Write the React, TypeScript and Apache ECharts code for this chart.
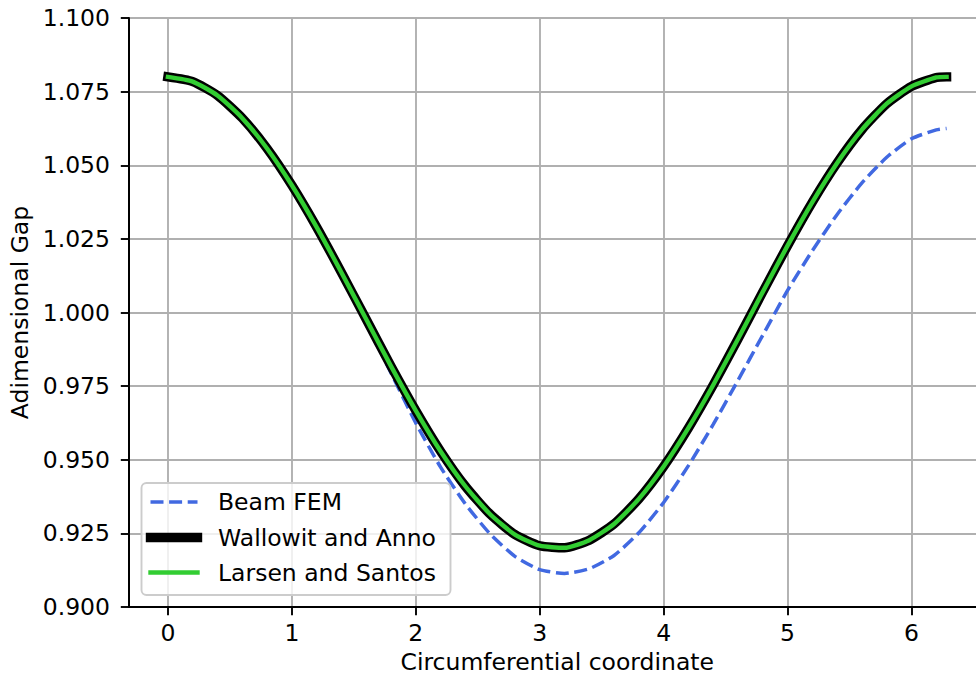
import React, { useEffect, useRef } from "react";
import * as echarts from "echarts";

const angles = [0, 0.2, 0.4, 0.6, 0.8, 1.0, 1.2, 1.4, 1.6, 1.8, 2.0, 2.2, 2.4, 2.6, 2.8, 3.0, 3.2, 3.4, 3.6, 3.8, 4.0, 4.2, 4.4, 4.6, 4.8, 5.0, 5.2, 5.4, 5.6, 5.8, 6.0, 6.2, 6.283];

const beamFem = [1.08, 1.0784, 1.0737, 1.066, 1.0557, 1.0432, 1.029, 1.0132, 0.9965, 0.9795, 0.9625, 0.9475, 0.935, 0.9248, 0.9172, 0.9127, 0.9114, 0.913, 0.9175, 0.9252, 0.9355, 0.948, 0.962, 0.977, 0.9923, 1.0075, 1.021, 1.0333, 1.044, 1.0527, 1.059, 1.062, 1.0625];

const wallowitAnno = [1.08, 1.0784, 1.0737, 1.066, 1.0557, 1.0432, 1.029, 1.0136, 0.9977, 0.9818, 0.9667, 0.9529, 0.941, 0.9315, 0.9246, 0.9208, 0.9201, 0.9227, 0.9282, 0.9367, 0.9477, 0.9608, 0.9754, 0.991, 1.007, 1.0227, 1.0375, 1.0508, 1.0621, 1.0709, 1.0768, 1.0798, 1.08];

const larsenSantos = [1.08, 1.0784, 1.0737, 1.066, 1.0557, 1.0432, 1.029, 1.0136, 0.9977, 0.9818, 0.9667, 0.9529, 0.941, 0.9315, 0.9246, 0.9208, 0.9201, 0.9227, 0.9282, 0.9367, 0.9477, 0.9608, 0.9754, 0.991, 1.007, 1.0227, 1.0375, 1.0508, 1.0621, 1.0709, 1.0768, 1.0798, 1.08];

const seriesNames = ["Beam FEM", "Wallowit and Anno", "Larsen and Santos"];
const xTicks = [0, 1, 2, 3, 4, 5, 6];
const X_MIN = -0.314;
const X_MAX = 6.597;
const Y_MIN = 0.9;
const Y_MAX = 1.1;
const Y_STEP = 0.025;

const FONT = "DejaVu Sans";
const FS = 23.5;
const BLUE = "#4169E1";
const GREEN = "#32CD32";
const SMOOTH = 0.2;

export default function App() {
  const ref = useRef<HTMLDivElement>(null);
  useEffect(() => {
    document.body.style.margin = "0";
    document.body.style.overflow = "hidden";
    const chart = echarts.init(ref.current!, null, { renderer: "svg" });
    const pair = (ys: number[]) => angles.map((x, i) => [x, ys[i]]);
    const legendRows = [
      { name: seriesNames[0], y: 502, style: { stroke: BLUE, lineWidth: 3.5, lineDash: [13, 5.6], lineCap: "butt" } },
      { name: seriesNames[1], y: 537.5, style: { stroke: "#000", lineWidth: 9.4, lineCap: "square" } },
      { name: seriesNames[2], y: 572.5, style: { stroke: GREEN, lineWidth: 4.4, lineCap: "square" } },
    ];
    const graphics: any[] = [
      {
        type: "rect",
        shape: { x: 141.5, y: 483, width: 309, height: 112, r: 5 },
        style: { fill: "rgba(255,255,255,0.8)", stroke: "#cccccc", lineWidth: 1.9 },
        z: 100,
      },
    ];
    legendRows.forEach((r) => {
      graphics.push({
        type: "line",
        shape: { x1: 150.5, y1: r.y, x2: 197.5, y2: r.y },
        style: { ...r.style, fill: null },
        z: 101,
      });
      graphics.push({
        type: "text",
        x: 218,
        y: r.y,
        style: { text: r.name, fontSize: FS, fontFamily: FONT, fill: "#000", textVerticalAlign: "middle", verticalAlign: "middle", align: "left" },
        z: 101,
      });
    });
    chart.setOption({
      animation: false,
      backgroundColor: "#ffffff",
      textStyle: { fontFamily: FONT },
      grid: {
        left: 129,
        top: 18,
        right: 14.5,
        bottom: 72,
        show: true,
        borderColor: "#000",
        borderWidth: 1.9,
        backgroundColor: "#ffffff",
        containLabel: false,
        outerBoundsMode: "none",
      },
      xAxis: {
        type: "value",
        min: X_MIN,
        max: X_MAX,
        name: "Circumferential coordinate",
        nameLocation: "middle",
        nameGap: 38,
        nameTextStyle: { fontSize: FS, color: "#000", fontFamily: FONT },
        axisLine: { show: true, onZero: false, lineStyle: { color: "#000", width: 1.9 } },
        axisTick: { show: true, customValues: xTicks, length: 8.2, lineStyle: { color: "#000", width: 1.9 } },
        axisLabel: { customValues: xTicks, margin: 14, fontSize: FS, color: "#000", fontFamily: FONT, formatter: (v: number) => String(Math.round(v)) },
        splitLine: { show: true, lineStyle: { color: "#b0b0b0", width: 1.9 } },
      },
      yAxis: {
        type: "value",
        min: Y_MIN,
        max: Y_MAX,
        interval: Y_STEP,
        name: "Adimensional Gap",
        nameLocation: "middle",
        nameRotate: 90,
        nameGap: 92,
        nameTextStyle: { fontSize: FS, color: "#000", fontFamily: FONT },
        axisLine: { show: true, onZero: false, lineStyle: { color: "#000", width: 1.9 } },
        axisTick: { show: true, length: 8.2, lineStyle: { color: "#000", width: 1.9 } },
        axisLabel: { margin: 19, fontSize: FS, color: "#000", fontFamily: FONT, formatter: (v: number) => v.toFixed(3) },
        splitLine: { show: true, lineStyle: { color: "#b0b0b0", width: 1.9 } },
      },
      series: [
        {
          name: seriesNames[0],
          type: "line",
          data: pair(beamFem),
          smooth: SMOOTH,
          showSymbol: false,
          symbol: "none",
          lineStyle: { color: BLUE, width: 3.5, type: [13, 5.6], cap: "butt" },
          z: 2,
        },
        {
          name: seriesNames[1],
          type: "line",
          data: pair(wallowitAnno),
          smooth: SMOOTH,
          showSymbol: false,
          symbol: "none",
          lineStyle: { color: "#000", width: 9.4, cap: "square", join: "round" },
          z: 3,
        },
        {
          name: seriesNames[2],
          type: "line",
          data: pair(larsenSantos),
          smooth: SMOOTH,
          showSymbol: false,
          symbol: "none",
          lineStyle: { color: GREEN, width: 4.4, cap: "square", join: "round" },
          z: 4,
        },
      ],
      graphic: graphics,
    });
    return () => chart.dispose();
  }, []);
  return <div ref={ref} style={{ position: "fixed", left: 0, top: 0, width: 1000, height: 679 }} />;
}
